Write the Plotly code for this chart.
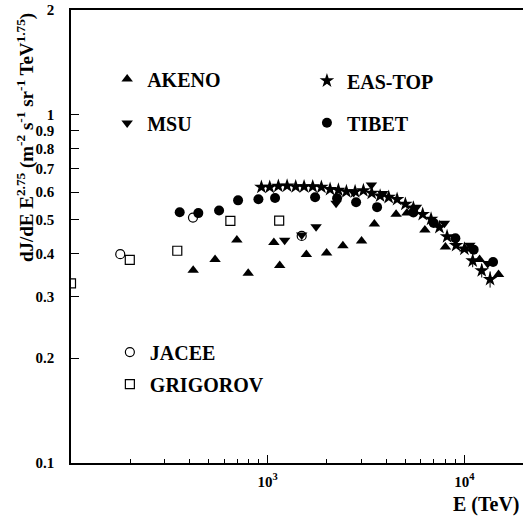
import plotly.graph_objects as go

# ---------------- data ----------------
akeno_e = [418, 540, 697, 796, 1075, 1151, 1573, 1993, 2412, 3001, 3486, 4496, 5103, 6298, 8008, 10060, 11950, 14920]
akeno_v = [0.358, 0.384, 0.437, 0.351, 0.430, 0.369, 0.397, 0.401, 0.421, 0.434, 0.486, 0.518, 0.522, 0.467, 0.417, 0.412, 0.384, 0.348]

msu_e = [1220, 1489, 1762, 2227, 2736, 3367, 3842, 5702, 7914, 10660, 13140]
msu_v = [0.436, 0.452, 0.477, 0.557, 0.598, 0.629, 0.594, 0.543, 0.488, 0.422, 0.374]

eastop_e = [929, 1024, 1133, 1255, 1388, 1531, 1694, 1875, 2076, 2288, 2513, 2782, 3066, 3380,
            3729, 4123, 4549, 5012, 5505, 6138, 6770, 7464, 8166, 9075, 10000, 11020, 12250, 13510]
eastop_v = [0.620, 0.620, 0.624, 0.625, 0.622, 0.622, 0.622, 0.620, 0.611, 0.608, 0.602, 0.602, 0.606, 0.596,
            0.585, 0.580, 0.572, 0.554, 0.540, 0.518, 0.502, 0.475, 0.447, 0.422, 0.412, 0.381, 0.357, 0.337]
eastop_err = [0, 0, 0, 0, 0, 0, 0, 0, 0, 0, 0, 0, 0, 0,
              0, 0, 0, 0, 0, 0, 0, 0, 0, 0, 0, 0.016, 0.016, 0.018]

tibet_e = [357, 444, 566, 707, 897, 1090, 1742, 2253, 2815, 3598, 5505, 6982, 9000, 11150, 13990]
tibet_v = [0.525, 0.522, 0.531, 0.568, 0.572, 0.577, 0.580, 0.576, 0.561, 0.543, 0.524, 0.489, 0.442, 0.410, 0.378]

jacee_e = [178, 417, 1489]
jacee_v = [0.398, 0.507, 0.449]

grigorov_e = [100, 199, 347, 646, 1144]
grigorov_v = [0.328, 0.383, 0.407, 0.496, 0.497]

y_ticks = [0.1, 0.2, 0.3, 0.4, 0.5, 0.6, 0.7, 0.8, 0.9, 1, 2]
y_ticktext = ["0.1", "0.2", "0.3", "0.4", "0.5", "0.6", "0.7", "0.8", "0.9", "1", "2"]
x_ticks = [1000, 10000]
x_ticktext = ["10<sup>3</sup>", "10<sup>4</sup>"]
x_minor = [200, 300, 400, 500, 600, 700, 800, 900, 2000, 3000, 4000, 5000, 6000, 7000, 8000, 9000]

FONT = "Liberation Serif"

fig = go.Figure()


def add(name, x, y, symbol, size, legend, err=None, lw=0):
    tr = dict(
        x=x, y=y, mode="markers", name=name, legend=legend, legendgroup=name,
        marker=dict(symbol=symbol, size=size, color="black",
                    line=dict(color="black", width=lw)),
        cliponaxis=True,
    )
    if err is not None:
        tr["error_y"] = dict(type="data", array=err, visible=True, width=0,
                             thickness=1, color="black")
    fig.add_trace(go.Scatter(**tr))


add("AKENO", akeno_e, akeno_v, "triangle-up", 10, "legend")
add("MSU", msu_e, msu_v, "triangle-down", 10, "legend")
add("EAS-TOP", eastop_e, eastop_v, "star", 11, "legend2", err=eastop_err)
add("TIBET", tibet_e, tibet_v, "circle", 10, "legend2")
add("JACEE", jacee_e, jacee_v, "circle-open", 9, "legend3", lw=1.2)
add("GRIGOROV", grigorov_e, grigorov_v, "square-open", 9, "legend3", lw=1.2)

leg_common = dict(xanchor="left", yanchor="top", bgcolor="rgba(0,0,0,0)",
                  font=dict(family=FONT, size=20, color="black", weight="bold"))

fig.update_layout(
    width=523, height=516,
    margin=dict(l=71, r=0, t=10, b=53),
    plot_bgcolor="white", paper_bgcolor="white",
    font=dict(family=FONT, size=15, color="black", weight="bold"),
    legend=dict(x=0.08, y=0.891, tracegroupgap=15, **leg_common),
    legend2=dict(x=0.522, y=0.887, tracegroupgap=13, **leg_common),
    legend3=dict(x=0.086, y=0.288, tracegroupgap=3, **leg_common),
)

fig.update_xaxes(
    type="log", range=[2, 4.298],
    showline=True, linecolor="black", linewidth=1.5, mirror=True,
    showgrid=False, zeroline=False,
    ticks="inside", ticklen=8, tickwidth=1, tickcolor="black",
    tickvals=x_ticks, ticktext=x_ticktext, ticklabelstandoff=4,
    tickfont=dict(family=FONT, size=15, color="black", weight="bold"),
    minor=dict(ticks="inside", ticklen=4, tickwidth=1, tickcolor="black",
               tickvals=x_minor, showgrid=False),
)
fig.update_yaxes(
    type="log", range=[-1, 0.30103],
    showline=True, linecolor="black", linewidth=1.5, mirror=False,
    showgrid=False, zeroline=False,
    ticks="inside", ticklen=8, tickwidth=1, tickcolor="black",
    tickvals=y_ticks, ticktext=y_ticktext, ticklabelstandoff=12,
    tickfont=dict(family=FONT, size=15, color="black", weight="bold"),
)

fig.add_annotation(
    text="dJ/dE E<sup>2.75</sup> (m<sup>-2</sup> s<sup>-1</sup> sr<sup>-1</sup> TeV<sup>1.75</sup>)",
    xref="paper", yref="paper", x=-0.101, y=0.718, xanchor="center", yanchor="middle",
    textangle=-90, showarrow=False,
    font=dict(family=FONT, size=19, color="black", weight="bold"),
)
fig.add_annotation(
    text="E (TeV)", xref="paper", yref="paper", x=0.996, y=-0.091,
    xanchor="right", yanchor="middle", showarrow=False,
    font=dict(family=FONT, size=20, color="black", weight="bold"),
)

fig.write_html("out.html")
